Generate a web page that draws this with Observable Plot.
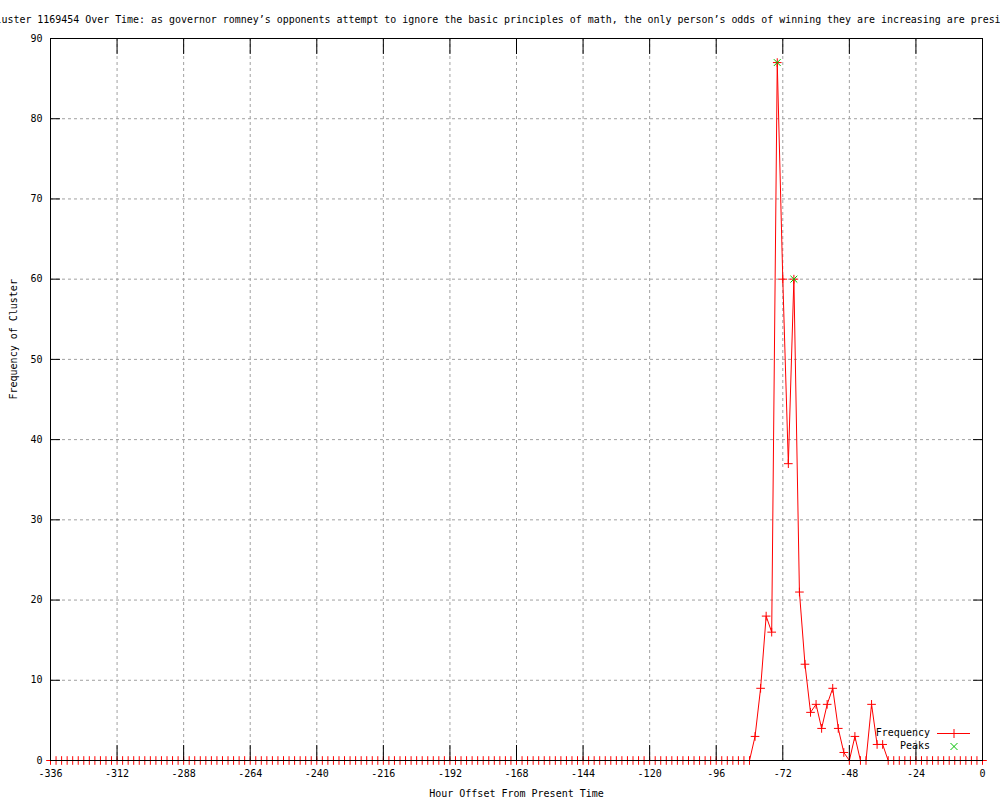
<!DOCTYPE html>
<html><head><meta charset="utf-8">
<script src="https://cdn.jsdelivr.net/npm/d3@7"></script>
<script src="https://cdn.jsdelivr.net/npm/@observablehq/plot@0.6"></script>
<style>body{margin:0;overflow:hidden;background:#fff}</style>
</head><body><div id="chart"></div>
<script>
const title = "Cluster 1169454 Over Time: as governor romney\u2019s opponents attempt to ignore the basic principles of math, the only person\u2019s odds of winning they are increasing are presi";
const xLabel = "Hour Offset From Present Time";
const yLabel = "Frequency of Cluster";
const hours = d3.range(-336, 1, 2);
const frequency = [
  0,0,0,0,0,0,0,0,0,0, 0,0,0,0,0,0,0,0,0,0,
  0,0,0,0,0,0,0,0,0,0, 0,0,0,0,0,0,0,0,0,0,
  0,0,0,0,0,0,0,0,0,0, 0,0,0,0,0,0,0,0,0,0,
  0,0,0,0,0,0,0,0,0,0, 0,0,0,0,0,0,0,0,0,0,
  0,0,0,0,0,0,0,0,0,0, 0,0,0,0,0,0,0,0,0,0,
  0,0,0,0,0,0,0,0,0,0, 0,0,0,0,0,0,0,0,0,0,
  0,0,0,0,0,0,0,
  3,9,18,16,87,60,37,60,21,12,6,7,4,7,9,4,1,0,3,0,0,7,2,2,
  0,0,0,0,0,0,0,0,0,0,0,0,0,0,0,0,0,0
];
const peakHours = [-74, -68];
const peakValues = [87, 60];
const xTicks = [-336,-312,-288,-264,-240,-216,-192,-168,-144,-120,-96,-72,-48,-24,0];
const yTicks = [0,10,20,30,40,50,60,70,80,90];

const data = hours.map((h, i) => ({hour: h, freq: frequency[i]}));
const peaks = peakHours.map((h, i) => ({hour: h, freq: peakValues[i]}));

const gridStyle = {stroke: "#a0a0a0", strokeOpacity: 1, strokeDasharray: "3,3"};
const chart = Plot.plot({
  width: 1000, height: 800,
  marginLeft: 50, marginRight: 18, marginTop: 38, marginBottom: 40,
  style: {fontFamily: "'DejaVu Sans Mono', monospace", fontSize: "10px", overflow: "hidden", background: "#fff", color: "#000"},
  x: {domain: [-336, 0]},
  y: {domain: [0, 90]},
  marks: [
    Plot.gridX(xTicks, gridStyle),
    Plot.gridY(yTicks, gridStyle),
    Plot.line(data, {x: "hour", y: "freq", stroke: "#ff0000", strokeWidth: 1}),
    Plot.dot(data, {x: "hour", y: "freq", symbol: "plus", r: 2.9, stroke: "#ff0000", strokeWidth: 1}),
    Plot.dot(peaks, {x: "hour", y: "freq", symbol: "times", r: 3.2, stroke: "#00c000", strokeWidth: 1}),
    Plot.frame({stroke: "#000", strokeWidth: 1}),
    Plot.axisX(xTicks, {anchor: "bottom", tickSize: -15, tickPadding: 24, label: null, tickFormat: d => String(d)}),
    Plot.axisX(xTicks, {anchor: "top", tickSize: -15, fill: "none", label: null}),
    Plot.axisY(yTicks, {anchor: "left", tickSize: -10, tickPadding: 18, label: null, tickFormat: d => String(d)}),
    Plot.axisY(yTicks, {anchor: "right", tickSize: -10, fill: "none", label: null}),
    Plot.text([title], {frameAnchor: "top-left", dx: -61, dy: -19, textAnchor: "start", lineAnchor: "middle", fill: "#000", fontSize: 9.95}),
    Plot.text([xLabel], {frameAnchor: "bottom", dy: 33, lineAnchor: "middle", fill: "#000"}),
    Plot.text([yLabel], {frameAnchor: "left", dx: -37, rotate: -90, lineAnchor: "middle", fill: "#000"})
  ]
});
document.getElementById("chart").appendChild(chart);

// legend (inside plot area, bottom right)
const svg = d3.select(chart);
const lg = svg.append("g").attr("font-family", "'DejaVu Sans Mono', monospace").attr("font-size", 10);
const entries = [
  {label: "Frequency", y: 733, line: true, color: "#ff0000", sym: "plus"},
  {label: "Peaks", y: 746, line: false, color: "#00c000", sym: "times"}
];
entries.forEach(e => {
  lg.append("text").attr("x", 930).attr("y", e.y).attr("dy", "0.32em").attr("text-anchor", "end").attr("fill", "#000").text(e.label);
  if (e.line) lg.append("line").attr("x1", 937).attr("x2", 970).attr("y1", e.y + 0.5).attr("y2", e.y + 0.5).attr("stroke", e.color);
  if (e.sym === "plus") {
    lg.append("path").attr("d", `M949.5,${e.y + 0.5}h9M954,${e.y - 4}v9`).attr("stroke", e.color).attr("fill", "none");
  } else {
    lg.append("path").attr("d", `M950.5,${e.y - 3}l7,7M957.5,${e.y - 3}l-7,7`).attr("stroke", e.color).attr("fill", "none");
  }
});
</script>
</body></html>
